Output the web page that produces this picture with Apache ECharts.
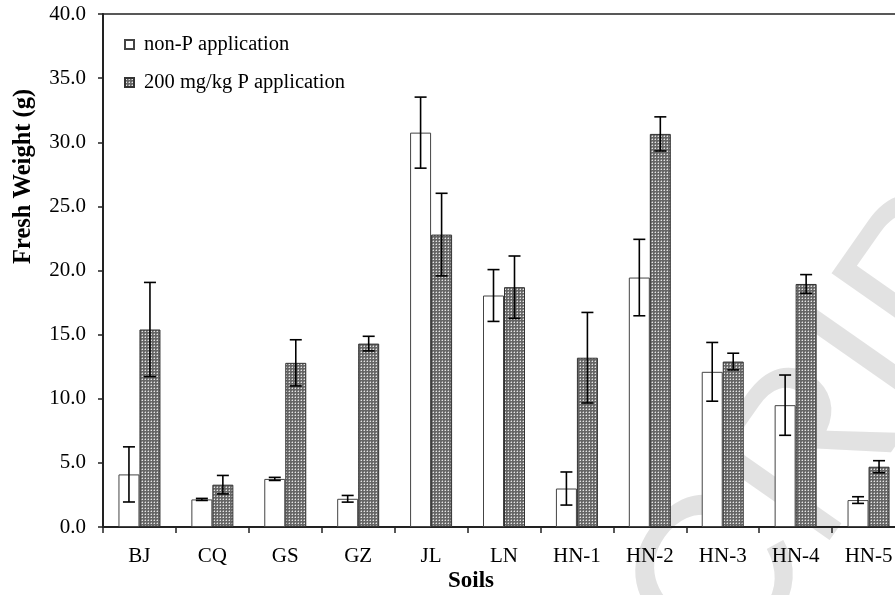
<!DOCTYPE html>
<html>
<head>
<meta charset="utf-8">
<script src="https://cdn.jsdelivr.net/npm/echarts@6/dist/echarts.min.js"></script>
<style>
html,body{margin:0;padding:0;background:#fff;}
#chart{width:895px;height:595px;}
</style>
</head>
<body>
<div id="chart"></div>
<script>
// ---- data ----
const categories = ['BJ','CQ','GS','GZ','JL','LN','HN-1','HN-2','HN-3','HN-4','HN-5'];
const seriesNames = ['non-P application', '200 mg/kg P application'];
const nonP     = [4.1, 2.15, 3.75, 2.2, 30.75, 18.05, 3.0, 19.45, 12.1, 9.5, 2.1];
const nonPErr  = [2.15, 0.08, 0.12, 0.26, 2.77, 2.02, 1.29, 2.98, 2.29, 2.35, 0.26];
const withP    = [15.4, 3.3, 12.8, 14.3, 22.8, 18.7, 13.2, 30.65, 12.9, 18.95, 4.7];
const withPErr = [3.67, 0.72, 1.8, 0.57, 3.22, 2.43, 3.53, 1.33, 0.65, 0.73, 0.47];
const yTicks = { min: 0, max: 40, interval: 5 };

// ---- styling ----
const FONT = '"Liberation Serif", "Times New Roman", serif';
const BAR_W = 21;

function makePattern() {
  const c = document.createElement('canvas');
  c.width = 3; c.height = 3;
  const ctx = c.getContext('2d');
  ctx.fillStyle = '#666666';
  ctx.fillRect(0, 0, 3, 3);
  ctx.fillStyle = '#e6e6e6';
  ctx.fillRect(1, 1, 1, 1);
  ctx.fillStyle = '#9a9a9a';
  ctx.fillRect(0, 1, 1, 1);
  ctx.fillRect(1, 0, 1, 1);
  return c;
}
const pattern = { image: makePattern(), repeat: 'repeat' };

// faint diagonal watermark (only its tail is visible in the picture)
const WM_TEXT = 'ACCEPTED MANUSCRIPT';
const WM_FONT = '220px "Liberation Sans", Arial, sans-serif';
const WM_ANGLE = 55 * Math.PI / 180;
function watermarkOrigin(cx, cy, upto, letter) {
  const ctx = document.createElement('canvas').getContext('2d');
  ctx.font = WM_FONT;
  const before = ctx.measureText(upto).width;
  const lw = ctx.measureText(letter).width;
  const d = before + lw / 2;
  return [cx - d * Math.cos(WM_ANGLE), cy + d * Math.sin(WM_ANGLE)];
}
const wmPos = watermarkOrigin(815, 455, 'ACCEPTED MANUSC', 'R');

function errorSeries(values, errs, offset) {
  return {
    type: 'custom',
    z: 10,
    silent: true,
    data: values.map((v, i) => [i, v, errs[i]]),
    renderItem: function (params, api) {
      const i = api.value(0), v = api.value(1), e = api.value(2);
      const top = api.coord([i, v + e]);
      const bot = api.coord([i, v - e]);
      const x = top[0] + offset;
      const cap = 6;
      const st = { stroke: '#000', lineWidth: 1.6 };
      return {
        type: 'group',
        children: [
          { type: 'line', shape: { x1: x, y1: top[1], x2: x, y2: bot[1] }, style: st },
          { type: 'line', shape: { x1: x - cap, y1: top[1], x2: x + cap, y2: top[1] }, style: st },
          { type: 'line', shape: { x1: x - cap, y1: bot[1], x2: x + cap, y2: bot[1] }, style: st }
        ]
      };
    }
  };
}

const chart = echarts.init(document.getElementById('chart'), null, { renderer: 'canvas' });
chart.setOption({
  animation: false,
  textStyle: { fontFamily: FONT, color: '#000' },
  grid: {
    left: 103, top: 14, width: 802, height: 513,
    outerBoundsMode: 'none', containLabel: false,
    show: true, borderColor: '#222', borderWidth: 1.5
  },
  legend: {
    data: seriesNames,
    orient: 'vertical',
    left: 119,
    top: 29,
    itemGap: 17,
    itemWidth: 9,
    itemHeight: 9,
    icon: 'rect',
    textStyle: { fontFamily: FONT, fontSize: 20.5, color: '#000', padding: [0, 0, 0, 5] }
  },
  xAxis: {
    type: 'category',
    data: categories,
    axisLine: { lineStyle: { color: '#222', width: 2 } },
    axisTick: { show: true, length: 6, lineStyle: { color: '#222', width: 1.5 } },
    axisLabel: { margin: 19, fontFamily: FONT, fontSize: 21, color: '#000' },
    splitLine: { show: false }
  },
  yAxis: {
    type: 'value',
    min: yTicks.min, max: yTicks.max, interval: yTicks.interval,
    axisLine: { show: true, lineStyle: { color: '#222', width: 2 } },
    axisTick: { show: true, length: 5, lineStyle: { color: '#222', width: 1.5 } },
    axisLabel: { margin: 17, fontFamily: FONT, fontSize: 21, color: '#000', formatter: v => v.toFixed(1) },
    splitLine: { show: false }
  },
  graphic: [
    {
      type: 'text', x: wmPos[0], y: wmPos[1], rotation: WM_ANGLE, z: -10, silent: true,
      style: { text: WM_TEXT, font: WM_FONT, fill: '#e2e2e2', textAlign: 'left', textVerticalAlign: 'middle' }
    },
    {
      type: 'text', left: 448, top: 570,
      style: { text: 'Soils', font: 'bold 23px ' + FONT, fill: '#000' }
    },
    {
      type: 'text', x: 11, y: 264, rotation: Math.PI / 2,
      style: { text: 'Fresh Weight (g)', font: 'bold 24.5px ' + FONT, fill: '#000', textAlign: 'left', textVerticalAlign: 'top' }
    }
  ],
  series: [
    {
      name: seriesNames[0], type: 'bar', data: nonP, barWidth: BAR_W, barGap: '0%',
      itemStyle: { color: '#ffffff', borderColor: '#444', borderWidth: 1 }
    },
    {
      name: seriesNames[1], type: 'bar', data: withP, barWidth: BAR_W, barGap: '0%',
      itemStyle: { color: pattern, borderColor: '#333', borderWidth: 1 }
    },
    errorSeries(nonP, nonPErr, -BAR_W / 2),
    errorSeries(withP, withPErr, BAR_W / 2)
  ]
});
</script>
</body>
</html>
